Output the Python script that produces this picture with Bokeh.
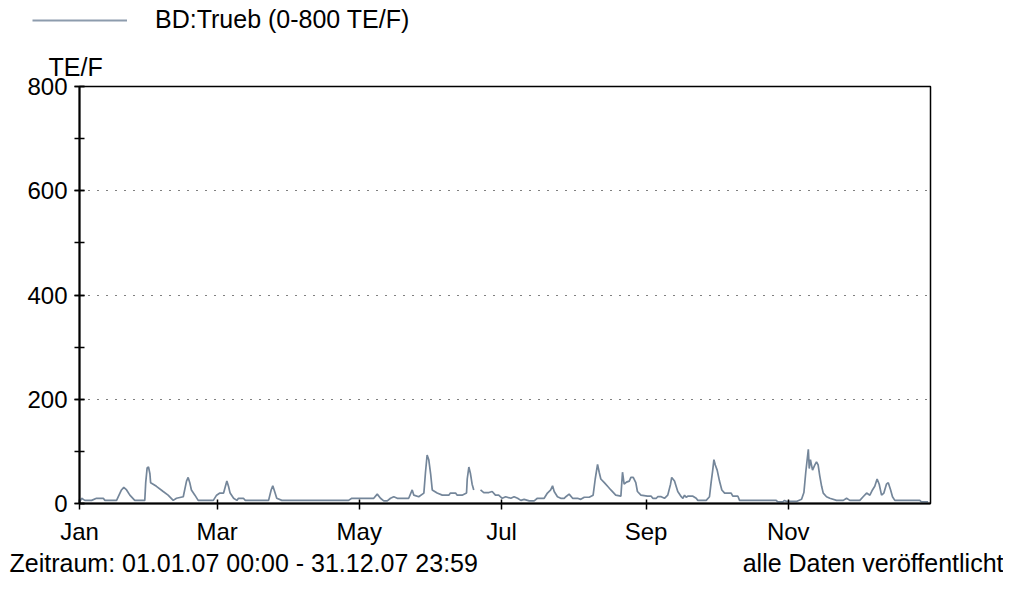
from bokeh.plotting import figure
from bokeh.layouts import column
from bokeh.models import Range1d, FixedTicker, SingleIntervalTicker, Label, Legend, LegendItem, Title
from bokeh.embed import file_html
from bokeh.resources import INLINE

# ---------------- data (day of year 2007, turbidity TE/F) ----------------
days = [0.1, 0.9, 2.3, 5.2, 7.3, 10.2, 10.9, 15.9, 18.0, 19.0, 20.2, 21.6, 23.7,
        28.0, 28.4, 29.0, 29.6, 30.2, 30.5, 31.6, 33.0, 35.9, 38.0, 40.2, 41.6,
        44.5, 45.9, 46.6, 47.3, 48.0, 49.5, 50.9, 57.4, 58.8, 60.2, 61.8, 63.2,
        63.9, 64.6, 66.1, 67.5, 68.2, 70.3, 71.1, 81.1, 82.2, 82.9, 83.9, 84.6,
        86.8, 115.4, 116.8, 121.8, 126.2, 127.7, 129.1, 130.5, 132.0, 133.4,
        134.8, 136.3, 141.2, 142.7, 143.4, 145.5, 147.7, 148.4, 149.1, 149.8,
        150.6, 151.3, 153.4, 155.6, 158.4, 159.1, 161.3, 162.0, 164.1, 166.0,
        166.3, 167.0, 167.7, 168.4, 169.1, 170.5, 172.0, 173.4, 175.6, 177.0,
        178.4, 179.8, 181.3, 182.8, 185.0, 186.4, 187.9, 189.3, 190.7, 192.9,
        195.0, 196.4, 199.3, 200.7, 202.1, 202.9, 203.6, 205.0, 206.4, 207.9,
        208.6, 210.0, 211.5, 213.6, 215.0, 216.5, 218.6, 220.3, 221.2, 222.2,
        222.9, 223.6, 225.1, 226.5, 227.9, 230.0, 232.2, 232.9, 233.6, 234.6,
        235.8, 236.5, 237.5, 238.6, 239.3, 240.8, 243.6, 245.2, 245.9, 247.4,
        248.0, 249.5, 250.9, 252.3, 253.5, 254.0, 255.2, 255.9, 256.6, 258.1,
        258.8, 259.5, 260.2, 260.9, 263.1, 264.5, 265.2, 268.8, 270.2, 270.9,
        271.6, 272.1, 272.7, 273.5, 274.5, 275.5, 276.7, 279.5, 280.2, 282.4,
        283.1, 298.8, 299.5, 301.7, 302.4, 303.2, 307.5, 309.7, 310.7, 311.5,
        312.6, 313.0, 313.5, 314.4, 315.4, 316.1, 316.8, 317.5, 318.3, 319.0,
        320.4, 321.8, 324.7, 327.6, 329.0, 330.4, 334.7, 336.1, 337.6, 339.0,
        340.1, 341.1, 342.1, 343.0, 344.0, 345.0, 346.1, 346.9, 347.9, 348.7,
        349.7, 360.4, 361.1, 364.0]
turbidity = [3, 10, 6, 6, 10, 10, 6, 6, 26, 31, 26, 16, 6,
             6, 40, 68, 70, 57, 40, 37, 33, 23, 16, 6, 10,
             13, 43, 50, 40, 26, 16, 6, 6, 16, 20, 20, 43,
             33, 20, 10, 6, 10, 10, 6, 6, 26, 34, 20, 10,
             6, 6, 10, 10, 10, 18, 10, 5, 5, 10,
             13, 10, 10, 26, 16, 13, 20, 60, 93, 84,
             57, 26, 20, 16, 16, 20, 20, 16, 16, 20,
             47, 70, 57, 37, 26, float("nan"), 26, 21, 21, 23,
             16, 16, 10, 13, 10, 13, 10, 6, 8, 5,
             5, 10, 10, 20, 26, 34, 23, 13, 10, 10,
             13, 18, 10, 10, 8, 12, 12, 16, 47, 75,
             60, 47, 40, 33, 26, 16, 14, 60, 37, 41,
             43, 50, 50, 40, 23, 16, 14, 14, 10, 10,
             13, 13, 10, 16, 37, 50, 43, 33, 23, 13,
             10, 16, 12, 14, 14, 10, 6, 6, 13, 40,
             64, 84, 74, 64, 43, 26, 20, 20, 14, 14,
             6, 6, 3, 3, 6, 4, 4, 8, 21, 60,
             104, 67, 84, 64, 74, 80, 74, 53, 33, 20,
             13, 10, 6, 6, 10, 6, 6, 13, 20, 16,
             26, 33, 47, 37, 16, 20, 37, 40, 26, 13,
             6, 6, 3, 3]

month_labels = ["Jan", "Mar", "May", "Jul", "Sep", "Nov"]
month_start_days = [0, 59, 120, 181, 243, 304]
grid_values = [200, 400, 600]

series_name = "BD:Trueb (0-800 TE/F)"
unit_text = "TE/F"
period_text = "Zeitraum: 01.01.07 00:00 - 31.12.07 23:59"
status_text = "alle Daten veröffentlicht"

# ---------------- layout (pixels) ----------------
W = 1003
TOP_H = 40            # header strip: legend
MAIN_H = 509          # chart strip (unit title + chart + x axis)
BOT_H = 33            # footer strip
BL, BR, BT, BB = 79, 73, 46, 46
X0, X1, Y0, Y1 = 0, 365, 0, 800
FONT = "Liberation Sans"
LINE_COLOR = "#74869a"
KEY_COLOR = "#8d9cad"
NAN = float("nan")


def no_frame_align(f):
    try:
        f.frame_align = False
    except Exception:
        pass
    return f


def strip(height):
    f = figure(width=W, height=height, output_backend="svg", toolbar_location=None,
               x_range=Range1d(0, W), y_range=Range1d(height, 0),
               x_axis_type=None, y_axis_type=None, min_border=0)
    f.outline_line_color = None
    f.background_fill_color = "white"
    f.border_fill_color = "white"
    return no_frame_align(f)


txt = dict(text_font=FONT, text_font_size="25px", text_color="black", text_baseline="middle")

# ---- header: legend ----
top = strip(TOP_H)
key = top.line(x=[NAN, NAN], y=[NAN, NAN], line_color=KEY_COLOR, line_width=2)
legend = Legend(items=[LegendItem(label=series_name, renderers=[key])],
                location=(32, TOP_H - 20 - 14),
                padding=0, margin=0, spacing=0,
                glyph_width=95, glyph_height=28, label_height=28, label_standoff=28,
                border_line_color=None, background_fill_alpha=0,
                label_text_font=FONT, label_text_font_size="25px", label_text_color="black")
legend.label_text_baseline = "middle"
top.add_layout(legend)

# ---- chart ----
p = figure(width=W, height=MAIN_H, output_backend="svg", toolbar_location=None,
           x_range=Range1d(X0, X1), y_range=Range1d(Y0, Y1),
           min_border_left=BL, min_border_right=BR, min_border_top=BT, min_border_bottom=BB)
no_frame_align(p)
p.background_fill_color = "white"
p.border_fill_color = "white"
p.outline_line_color = "black"
p.outline_line_width = 1.5

p.line(days, turbidity, line_color=LINE_COLOR, line_width=1.7)

p.add_layout(Title(text=unit_text, align="left", offset=48 - BL, standoff=11,
                   text_font=FONT, text_font_size="25px", text_font_style="normal",
                   text_color="black"), "above")

for ax in (p.xaxis[0], p.yaxis[0]):
    ax.axis_line_color = "black"
    ax.axis_line_width = 2
    ax.major_tick_line_color = "black"
    ax.major_tick_line_width = 1.5
    ax.minor_tick_line_color = "black"
    ax.minor_tick_line_width = 1.5
    ax.major_label_text_font = FONT
    ax.major_label_text_font_size = "24px"
    ax.major_label_text_color = "black"

p.xaxis.ticker = FixedTicker(ticks=month_start_days)
p.xaxis.major_label_overrides = {d: m for d, m in zip(month_start_days, month_labels)}
p.xaxis.major_tick_in = 4
p.xaxis.major_tick_out = 6
p.xaxis.major_label_standoff = 8

p.yaxis.ticker = SingleIntervalTicker(interval=200, num_minor_ticks=2)
p.yaxis.major_tick_in = 5
p.yaxis.major_tick_out = 5
p.yaxis.minor_tick_in = 5
p.yaxis.minor_tick_out = 5
p.yaxis.major_label_standoff = 7

p.xgrid.visible = False
p.ygrid.ticker = FixedTicker(ticks=grid_values)
p.ygrid.grid_line_color = "black"
p.ygrid.grid_line_width = 1
p.ygrid.grid_line_dash = "1 8"

# ---- footer ----
bot = strip(BOT_H)
bot.add_layout(Label(x=9, y=13, text=period_text, text_align="left", **txt))
bot.add_layout(Label(x=W, y=13, text=status_text, text_align="right", **txt))

layout = column(top, p, bot, spacing=0)
open("out.html", "w").write(file_html(layout, INLINE))
